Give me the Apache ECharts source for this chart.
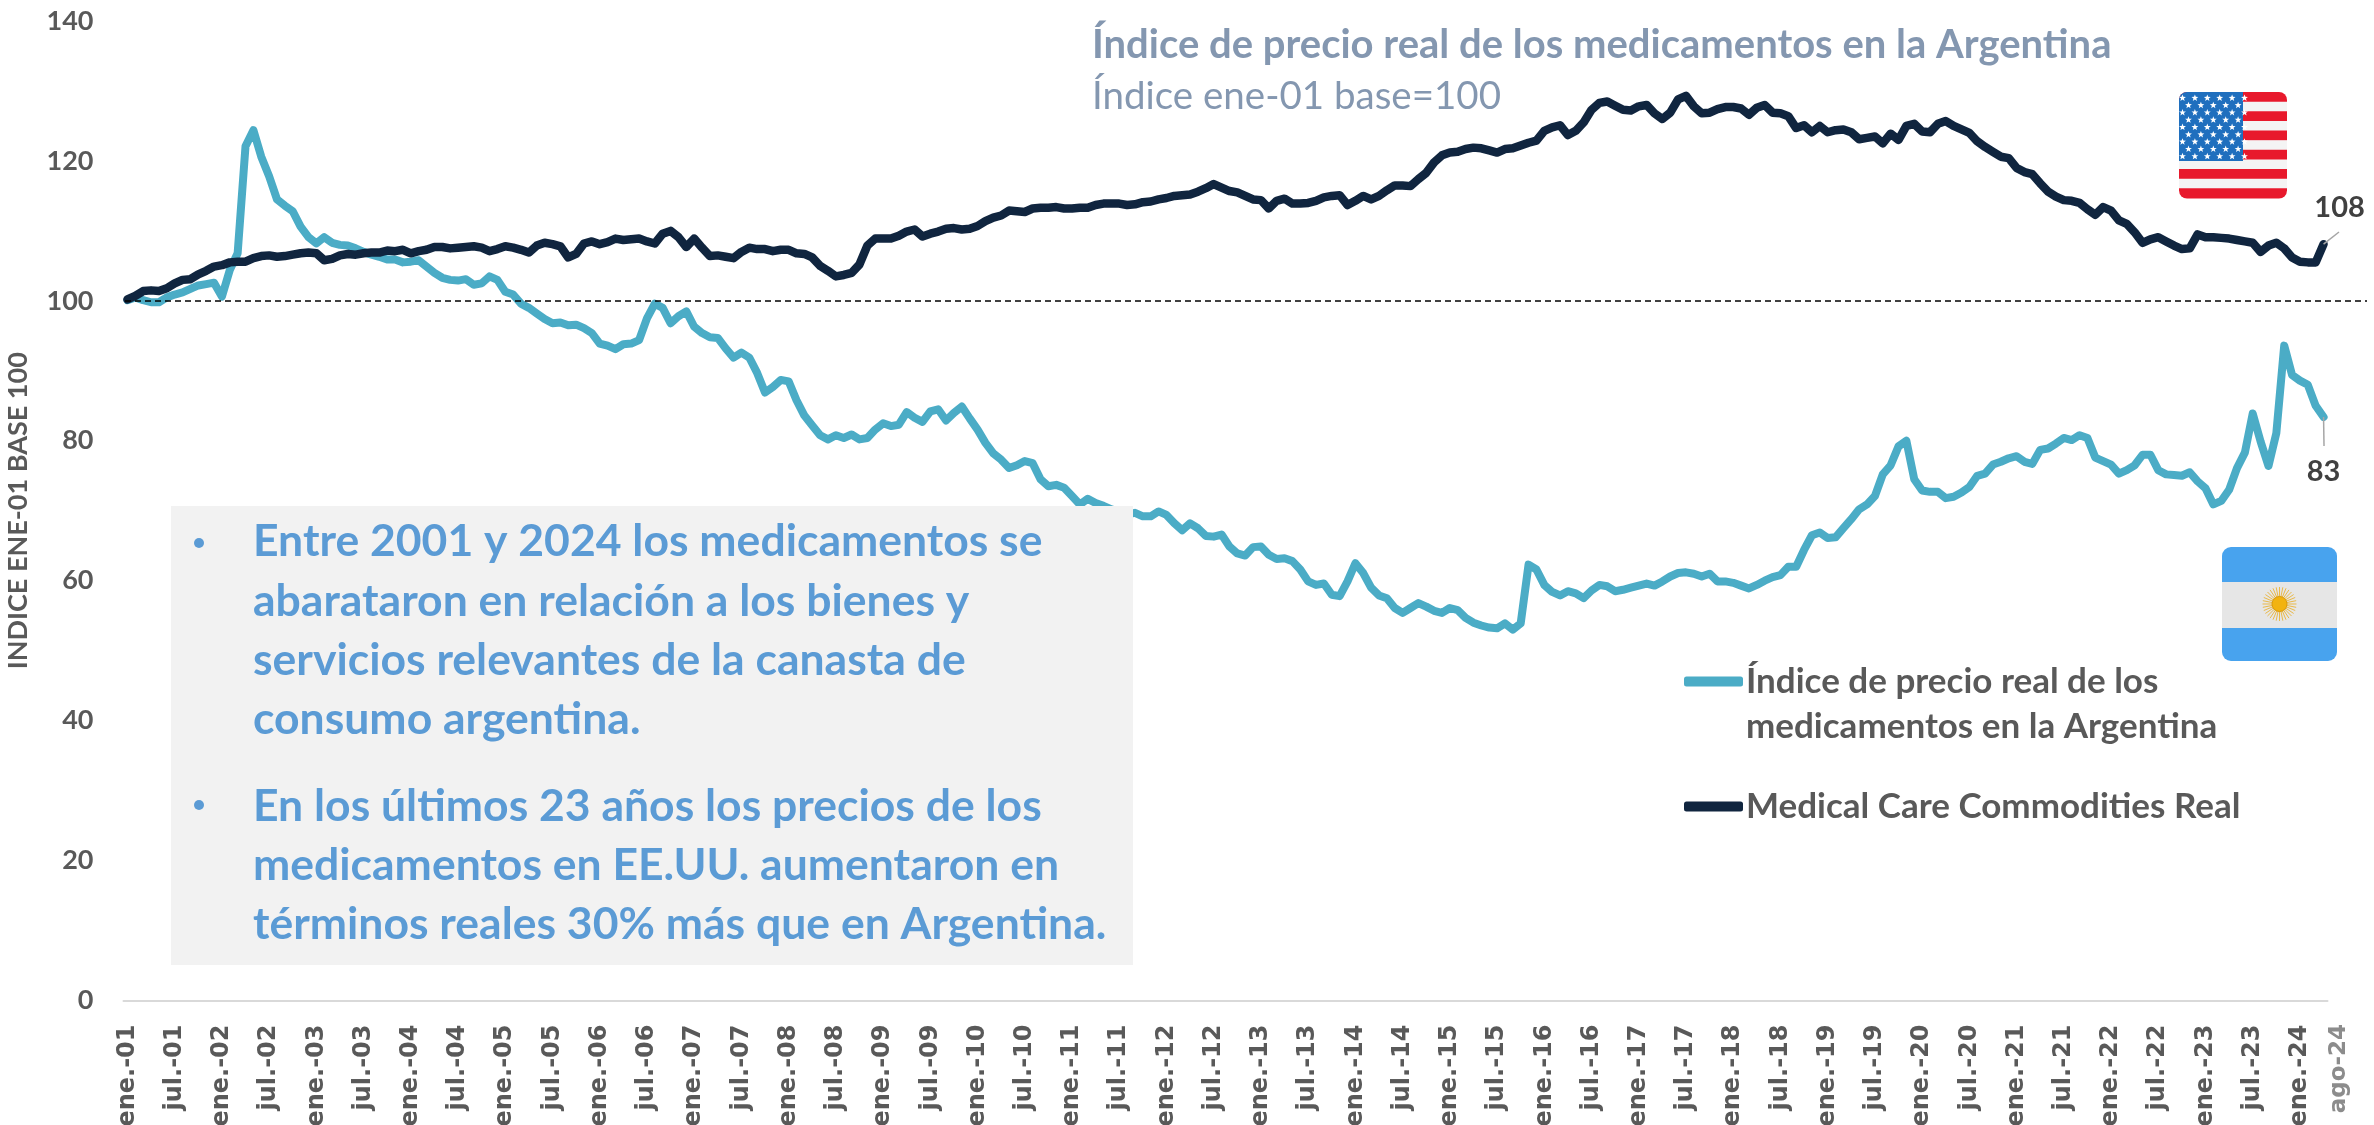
<!DOCTYPE html>
<html>
<head>
<meta charset="utf-8">
<title>Índice de precio real de los medicamentos</title>
<script src="https://cdn.jsdelivr.net/npm/echarts@6/dist/echarts.min.js"></script>
<style>
  html, body { margin: 0; padding: 0; background: #fff; }
  #chart { width: 2374px; height: 1125px; }
</style>
</head>
<body>
<div id="chart"></div>
<script>
const monthNames = ['ene.', 'feb.', 'mar.', 'abr.', 'may.', 'jun.', 'jul.', 'ago.', 'sep.', 'oct.', 'nov.', 'dic.'];
const firstYear = 1;
const monthCount = 280;

const yTicks = { min: 0, max: 140, step: 20 };
const refLevel = 100;

const argentina = [
  100.1, 100.5, 100.1, 99.8, 99.8, 100.5, 100.9, 101.2, 101.7, 102.2, 102.4, 102.6,
  100.6, 104.4, 106.8, 122.1, 124.4, 120.6, 117.8, 114.5, 113.6, 112.8, 110.6, 109.1,
  108.2, 109.1, 108.3, 108, 107.9, 107.5, 107, 106.6, 106.3, 105.9, 105.9, 105.5,
  105.6, 105.8, 104.9, 104, 103.3, 103, 102.9, 103.1, 102.3, 102.5, 103.5, 103,
  101.3, 100.9, 99.6, 99, 98.2, 97.4, 96.8, 96.9, 96.5, 96.6, 96.1, 95.4,
  93.9, 93.6, 93.1, 93.8, 93.9, 94.4, 97.5, 99.6, 99, 96.8, 97.8, 98.5,
  96.3, 95.4, 94.8, 94.7, 93.2, 91.9, 92.6, 91.9, 89.7, 86.9, 87.7, 88.7,
  88.5, 85.8, 83.6, 82.2, 80.8, 80.2, 80.8, 80.4, 80.9, 80.2, 80.4, 81.6,
  82.5, 82.1, 82.3, 84.1, 83.3, 82.7, 84.2, 84.5, 82.9, 84, 84.9, 83.2,
  81.6, 79.7, 78.2, 77.3, 76.1, 76.5, 77.1, 76.8, 74.5, 73.5, 73.7, 73.3,
  72.1, 70.9, 71.7, 71.1, 70.7, 70.2, 69.8, 69.5, 69.7, 69.2, 69.2, 69.9,
  69.4, 68.2, 67.2, 68.2, 67.5, 66.4, 66.3, 66.6, 64.9, 63.9, 63.6, 64.8,
  64.9, 63.7, 63.1, 63.2, 62.8, 61.6, 59.9, 59.4, 59.6, 58, 57.8, 59.9,
  62.5, 61.1, 59, 57.9, 57.5, 56.1, 55.4, 56.1, 56.8, 56.3, 55.7, 55.4,
  56.1, 55.8, 54.7, 54, 53.6, 53.3, 53.2, 53.9, 53, 53.9, 62.3, 61.6,
  59.4, 58.4, 57.9, 58.5, 58.2, 57.5, 58.6, 59.4, 59.2, 58.5, 58.7, 59,
  59.3, 59.6, 59.3, 59.9, 60.6, 61.1, 61.2, 61, 60.6, 61, 59.9, 59.9,
  59.7, 59.3, 58.9, 59.4, 60, 60.5, 60.8, 62, 62, 64.4, 66.5, 66.9,
  66.1, 66.2, 67.5, 68.8, 70.2, 70.9, 72.1, 75.2, 76.5, 79.2, 80, 74.5,
  72.9, 72.7, 72.7, 71.8, 72, 72.6, 73.4, 75, 75.3, 76.6, 77, 77.5,
  77.8, 77, 76.7, 78.7, 78.9, 79.6, 80.4, 80.1, 80.8, 80.4, 77.6, 77.1,
  76.6, 75.3, 75.8, 76.5, 78, 78, 75.8, 75.2, 75.1, 75, 75.5, 74.2,
  73.2, 70.9, 71.4, 73, 76.1, 78.3, 83.9, 79.9, 76.4, 81.1, 93.6, 89.4,
  88.6, 88, 85, 83.4
];

const usa = [
  100.2, 100.7, 101.4, 101.5, 101.4, 101.8, 102.5, 103, 103.1, 103.8, 104.3, 104.9,
  105.1, 105.5, 105.6, 105.6, 106.1, 106.4, 106.5, 106.3, 106.4, 106.6, 106.8, 106.9,
  106.8, 105.8, 106, 106.5, 106.7, 106.6, 106.8, 106.9, 106.9, 107.2, 107.1, 107.3,
  106.8, 107.1, 107.3, 107.7, 107.7, 107.5, 107.6, 107.7, 107.8, 107.6, 107.1, 107.4,
  107.8, 107.6, 107.3, 106.9, 107.9, 108.3, 108.1, 107.8, 106.2, 106.7, 108.2, 108.5,
  108.1, 108.4, 108.9, 108.7, 108.8, 108.9, 108.5, 108.2, 109.6, 110, 109.1, 107.7,
  108.9, 107.6, 106.4, 106.5, 106.3, 106.1, 107, 107.6, 107.4, 107.4, 107.1, 107.3,
  107.3, 106.8, 106.7, 106.2, 105, 104.3, 103.5, 103.7, 104, 105.2, 107.9, 108.9,
  108.9, 108.9, 109.3, 109.9, 110.2, 109.2, 109.6, 109.9, 110.3, 110.4, 110.2, 110.3,
  110.7, 111.4, 111.9, 112.2, 112.9, 112.8, 112.7, 113.2, 113.3, 113.3, 113.4, 113.2,
  113.2, 113.3, 113.3, 113.7, 113.9, 113.9, 113.9, 113.7, 113.8, 114.1, 114.2, 114.5,
  114.7, 115, 115.1, 115.2, 115.6, 116.1, 116.7, 116.2, 115.7, 115.5, 115, 114.5,
  114.4, 113.2, 114.3, 114.6, 113.9, 113.9, 114, 114.3, 114.8, 115, 115.1, 113.7,
  114.3, 115, 114.5, 115, 115.8, 116.5, 116.5, 116.4, 117.4, 118.3, 119.8, 120.8,
  121.2, 121.3, 121.7, 121.9, 121.8, 121.5, 121.2, 121.7, 121.8, 122.2, 122.6, 122.9,
  124.3, 124.8, 125.1, 123.7, 124.3, 125.5, 127.3, 128.3, 128.5, 127.9, 127.3, 127.2,
  127.8, 128, 126.8, 126, 126.9, 128.8, 129.3, 127.8, 126.8, 126.9, 127.4, 127.7,
  127.7, 127.5, 126.6, 127.6, 128, 126.9, 126.8, 126.4, 124.7, 125.1, 124.1, 125,
  124.1, 124.4, 124.5, 124.1, 123.1, 123.3, 123.5, 122.5, 123.9, 123, 125, 125.3,
  124.2, 124.1, 125.3, 125.7, 125, 124.5, 124, 122.8, 122, 121.3, 120.6, 120.4,
  119, 118.4, 118.1, 116.8, 115.6, 114.9, 114.4, 114.3, 114, 113.1, 112.3, 113.4,
  112.9, 111.5, 111, 109.8, 108.3, 108.8, 109.1, 108.5, 107.9, 107.4, 107.5, 109.5,
  109.1, 109.1, 109, 108.9, 108.7, 108.5, 108.3, 107, 107.9, 108.3, 107.5, 106.2,
  105.6, 105.5, 105.5, 108.1
];

const titleLines = ['Índice de precio real de los medicamentos en la Argentina', 'Índice ene-01 base=100'];
const legendArg = ['Índice de precio real de los', 'medicamentos en la Argentina'];
const legendUsa = 'Medical Care Commodities Real';
const yAxisName = 'INDICE ENE-01 BASE 100';
const lastTick = 'ago-24';
const boxLines = [
  'Entre 2001 y 2024 los medicamentos se',
  'abarataron en relación a los bienes y',
  'servicios relevantes de la canasta de',
  'consumo argentina.',
  'En los últimos 23 años los precios de los',
  'medicamentos en EE.UU. aumentaron en',
  'términos reales 30% más que en Argentina.'
];
const boxLineY = [542, 602, 661, 720, 807, 866, 925];
const bulletY = [543, 805];

const calibri = 'Lato, "Noto Sans", sans-serif';
const narrow = '"Liberation Sans Narrow", Lato, sans-serif';
const axisFont = '"DejaVu Sans", sans-serif';

let categories = [];
for (let i = 0; i < monthCount; i++) {
  let yy = firstYear + Math.floor(i / 12);
  categories.push(monthNames[i % 12] + '-' + String(yy).padStart(2, '0'));
}

// last point of a series gets its own rounded label
function withEndLabel(values, labelOpts) {
  let out = values.slice();
  out[out.length - 1] = {
    value: values[values.length - 1],
    label: Object.assign({
      show: true,
      formatter: function (p) { return String(Math.round(p.value)); },
      fontFamily: calibri,
      fontWeight: 'bold',
      fontSize: 29,
      color: '#404040'
    }, labelOpts)
  };
  return out;
}

// short grey line from the last point towards its label
function leader(values, end) {
  let last = values.length - 1;
  return [
    { coord: [last, values[last]], lineStyle: { color: '#a6a6a6', type: 'solid', width: 1.5 } },
    end
  ];
}

function starPoints(cx, cy, r) {
  let pts = [];
  for (let k = 0; k < 10; k++) {
    let a = -Math.PI / 2 + k * Math.PI / 5;
    let rr = k % 2 ? r * 0.42 : r;
    pts.push([cx + rr * Math.cos(a), cy + rr * Math.sin(a)]);
  }
  return pts;
}

function usFlag() {
  let x0 = 2179, y0 = 92, w = 108, h = 106, n = 11;
  let els = [];
  let sh = h / n;
  for (let i = 0; i < n; i++) {
    let r = i === 0 ? [8, 8, 0, 0] : (i === n - 1 ? [0, 0, 8, 8] : 0);
    els.push({ type: 'rect', z: 20, shape: { x: x0, y: y0 + i * sh, width: w, height: sh + 0.5, r: r },
      style: { fill: i % 2 ? '#f4f4f4' : '#e8192c' } });
  }
  els.push({ type: 'rect', z: 21, shape: { x: x0, y: y0, width: 64, height: 69, r: [8, 0, 0, 0] }, style: { fill: '#1f6fbe' } });
  for (let row = 0; row < 9; row++) {
    let count = row % 2 ? 5 : 6;
    for (let c = 0; c < count; c++) {
      let cx = x0 + (row % 2 ? 9.5 : 3.5) + c * 12.4;
      let cy = y0 + 6 + row * 7.3;
      els.push({ type: 'polygon', z: 22, shape: { points: starPoints(cx, cy, 3.6) }, style: { fill: '#fff' } });
    }
  }
  return els;
}

function arFlag() {
  let x0 = 2222, y0 = 547, w = 115, h = 114;
  let cx = x0 + w / 2, cy = y0 + h / 2;
  let els = [
    { type: 'rect', z: 20, shape: { x: x0, y: y0, width: w, height: h, r: 9 }, style: { fill: '#48a3ee' } },
    { type: 'rect', z: 21, shape: { x: x0, y: y0 + 35, width: w, height: 46 }, style: { fill: '#e6e6e6' } }
  ];
  for (let k = 0; k < 32; k++) {
    let a = k * Math.PI / 16;
    els.push({ type: 'line', z: 22,
      shape: { x1: cx, y1: cy, x2: cx + 17 * Math.cos(a), y2: cy + 17 * Math.sin(a) },
      style: { stroke: '#e9b949', lineWidth: 1 } });
  }
  els.push({ type: 'circle', z: 23, shape: { cx: cx, cy: cy, r: 7.5 }, style: { fill: '#f2b30f', stroke: '#d99a0a', lineWidth: 1 } });
  return els;
}

let boxEls = [
  { type: 'rect', z: 30, shape: { x: 171, y: 506, width: 962, height: 459 }, style: { fill: '#f2f2f2' } }
];
boxLines.forEach(function (line, i) {
  boxEls.push({ type: 'text', z: 31, x: 253, y: boxLineY[i],
    style: { text: line, fontFamily: calibri, fontWeight: 'bold', fontSize: 44.5, fill: '#5b9bd5', verticalAlign: 'middle' } });
});
bulletY.forEach(function (y) {
  boxEls.push({ type: 'circle', z: 31, shape: { cx: 199, cy: y, r: 5 }, style: { fill: '#5b9bd5' } });
});

let titleEls = [
  { type: 'text', z: 31, x: 1092, y: 45,
    style: { text: titleLines[0], fontFamily: calibri, fontWeight: 'bold', fontSize: 40, fill: '#8497b0', verticalAlign: 'middle' } },
  { type: 'text', z: 31, x: 1092, y: 97,
    style: { text: titleLines[1], fontFamily: calibri, fontSize: 38.5, fill: '#8497b0', verticalAlign: 'middle' } },
  { type: 'text', z: 31, x: 1746, y: 727,
    style: { text: legendArg[1], fontFamily: calibri, fontWeight: 'bold', fontSize: 35, fill: '#595959', verticalAlign: 'middle' } },
  { type: 'text', z: 31, x: 2339, y: 1024, rotation: Math.PI / 2,
    style: { text: lastTick, fontFamily: axisFont, fontWeight: 'bold', fontSize: 23, fill: '#8c8c8c', align: 'right', verticalAlign: 'middle' } }
];

let legendText = { fontFamily: calibri, fontWeight: 'bold', fontSize: 35, color: '#595959' };

let myChart = echarts.init(document.getElementById('chart'), null, { renderer: 'canvas' });
myChart.setOption({
  animation: false,
  backgroundColor: '#fff',
  grid: { left: 123.5, top: 21, width: 2204, height: 979.5, outerBoundsMode: 'none' },
  legend: [
    {
      left: 1684, top: 664, padding: 0, itemWidth: 59, itemHeight: 10, itemGap: 0, icon: 'roundRect',
      data: [legendArg.join(' ')],
      formatter: function () { return legendArg[0]; },
      textStyle: Object.assign({ padding: [0, 0, 0, -2] }, legendText)
    },
    {
      left: 1684, top: 789, padding: 0, itemWidth: 59, itemHeight: 10, itemGap: 0, icon: 'roundRect',
      data: [legendUsa],
      textStyle: Object.assign({ padding: [0, 0, 0, -2] }, legendText)
    }
  ],
  xAxis: {
    type: 'category',
    data: categories,
    boundaryGap: true,
    axisLine: { lineStyle: { color: '#d9d9d9', width: 2 } },
    axisTick: { show: false },
    axisLabel: {
      interval: 5,
      rotate: 90,
      margin: 24,
      hideOverlap: false,
      fontFamily: axisFont,
      fontWeight: 'bold',
      fontSize: 24,
      color: '#595959'
    },
    splitLine: { show: false }
  },
  yAxis: {
    type: 'value',
    min: yTicks.min,
    max: yTicks.max,
    interval: yTicks.step,
    name: yAxisName,
    nameLocation: 'middle',
    nameGap: 92,
    nameTextStyle: { fontFamily: calibri, fontWeight: 'bold', fontSize: 27, color: '#595959' },
    axisLine: { show: false },
    axisTick: { show: false },
    splitLine: { show: false },
    axisLabel: { margin: 30, fontFamily: narrow, fontWeight: 'bold', fontSize: 27, color: '#595959' }
  },
  series: [
    {
      name: legendArg.join(' '),
      type: 'line',
      data: withEndLabel(argentina, { position: 'bottom', distance: 8, offset: [0, 32] }),
      symbol: 'circle',
      symbolSize: 0,
      showSymbol: true,
      showAllSymbol: true,
      smooth: false,
      color: '#4bacc6',
      lineStyle: { color: '#4bacc6', width: 8, cap: 'round', join: 'round' },
      z: 3,
      markLine: {
        silent: true,
        symbol: 'none',
        label: { show: false },
        lineStyle: { color: '#000', type: [6, 4], width: 1.5 },
        data: [
          [{ yAxis: refLevel, x: 125 }, { yAxis: refLevel, x: 2367 }],
          leader(argentina, { x: 2324, y: 446 })
        ]
      }
    },
    {
      name: legendUsa,
      type: 'line',
      data: withEndLabel(usa, { position: 'top', distance: 8, offset: [16, -14] }),
      symbol: 'circle',
      symbolSize: 0,
      showSymbol: true,
      showAllSymbol: true,
      smooth: false,
      color: '#10253f',
      lineStyle: { color: '#10253f', width: 8.5, cap: 'round', join: 'round' },
      z: 4,
      markLine: {
        silent: true,
        symbol: 'none',
        label: { show: false },
        data: [leader(usa, { x: 2339, y: 232 })]
      }
    }
  ],
  graphic: { elements: boxEls.concat(titleEls, usFlag(), arFlag()) }
});
</script>
</body>
</html>
